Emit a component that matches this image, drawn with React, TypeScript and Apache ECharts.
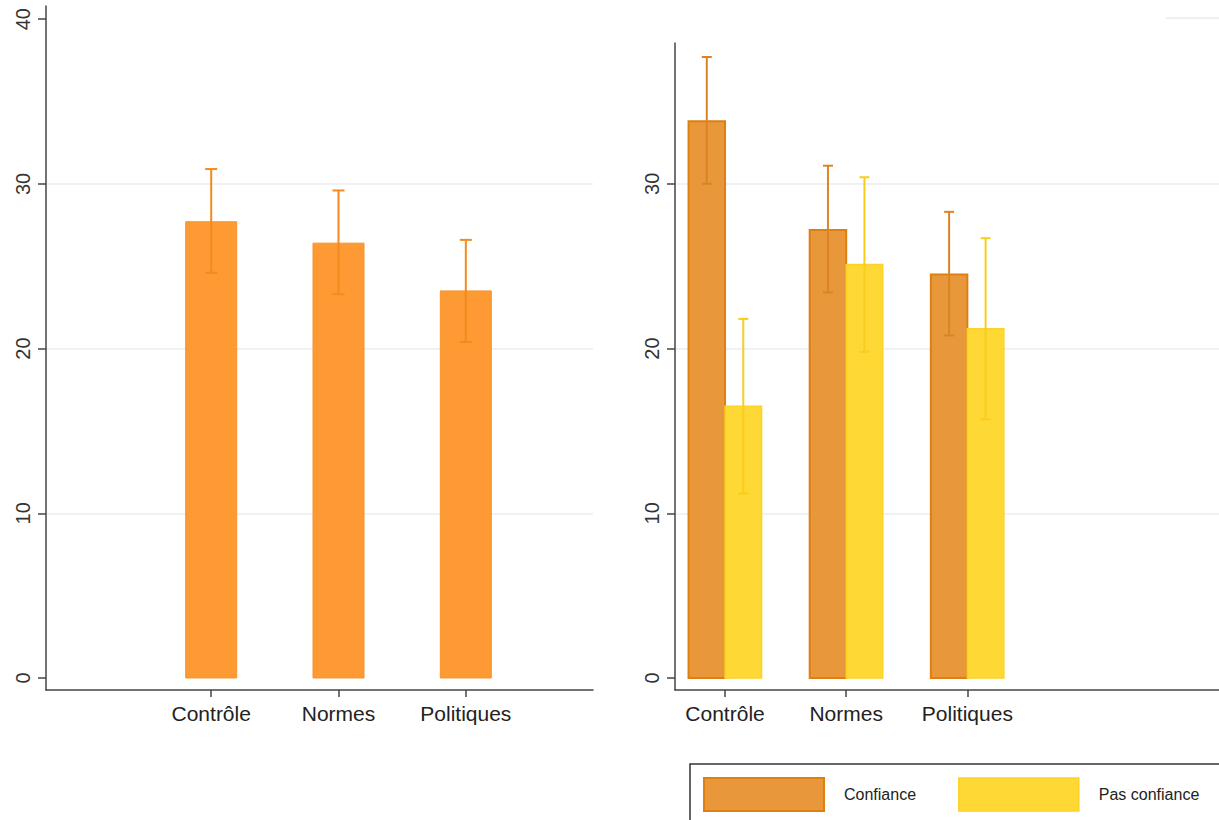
import { useEffect, useRef } from 'react';
import * as echarts from 'echarts';

// ---------- data ----------
const categories = ['Contrôle', 'Normes', 'Politiques'];

const overallMean = [27.7, 26.4, 23.5];
const overallLow = [24.6, 23.3, 20.4];
const overallHigh = [30.9, 29.6, 26.6];

const confianceMean = [33.8, 27.2, 24.5];
const confianceLow = [30.0, 23.4, 20.8];
const confianceHigh = [37.7, 31.1, 28.3];

const pasConfianceMean = [16.5, 25.1, 21.2];
const pasConfianceLow = [11.2, 19.8, 15.7];
const pasConfianceHigh = [21.8, 30.4, 26.7];

const leftTicks = [0, 10, 20, 30, 40];
const rightTicks = [0, 10, 20, 30];
const gridValues = [10, 20, 30];
const catPositions = categories.map((_, i) => i + 1);

const FONT = '"Liberation Sans", Arial, sans-serif';

function barSeries(name: string, xAxisIndex: number, means: number[], bw: number, offset: number, fill: string, stroke: string, lw: number, extra: any = {}) {
  return {
    type: 'custom',
    name,
    xAxisIndex,
    yAxisIndex: xAxisIndex,
    z: 2,
    itemStyle: { color: fill, borderColor: stroke, borderWidth: lw },
    encode: { x: 0, y: 1 },
    data: means.map((v, i) => [catPositions[i], v]),
    renderItem: (params: any, api: any) => {
      const x = api.value(0);
      const v = api.value(1);
      const top = api.coord([x, v]);
      const base = api.coord([x, 0]);
      return {
        type: 'rect',
        shape: { x: top[0] + offset - bw / 2, y: top[1], width: bw, height: base[1] - top[1] },
        style: { fill, stroke, lineWidth: lw },
      };
    },
    ...extra,
  };
}

function errSeries(name: string, xAxisIndex: number, lows: number[], highs: number[], offset: number, color: string, cap: number) {
  return {
    type: 'custom',
    name,
    xAxisIndex,
    yAxisIndex: xAxisIndex,
    encode: { x: 0, y: [1, 2] },
    data: lows.map((lo, i) => [catPositions[i], lo, highs[i]]),
    z: 5,
    renderItem: (params: any, api: any) => {
      const x = api.value(0);
      const lo = api.coord([x, api.value(1)]);
      const hi = api.coord([x, api.value(2)]);
      const cx = lo[0] + offset;
      const st = { stroke: color, lineWidth: 2 };
      return {
        type: 'group',
        children: [
          { type: 'line', shape: { x1: cx, y1: lo[1], x2: cx, y2: hi[1] }, style: st },
          { type: 'line', shape: { x1: cx - cap, y1: hi[1], x2: cx + cap, y2: hi[1] }, style: st },
          { type: 'line', shape: { x1: cx - cap, y1: lo[1], x2: cx + cap, y2: lo[1] }, style: st },
        ],
      };
    },
  };
}

const gridMarkLine = {
  silent: true,
  z: 0,
  symbol: ['none', 'none'],
  label: { show: false },
  lineStyle: { color: '#E9EEF0', width: 1.5, type: 'solid' },
  data: gridValues.map((v) => ({ yAxis: v })),
};

function gridSeries(name: string, index: number) {
  return {
    type: 'line',
    name,
    xAxisIndex: index,
    yAxisIndex: index,
    z: 0,
    data: [],
    showSymbol: false,
    markLine: gridMarkLine,
  };
}

export default function App() {
  const ref = useRef<HTMLDivElement>(null);
  useEffect(() => {
    if (!ref.current) return;
    const chart = echarts.init(ref.current, undefined, { renderer: 'svg' });
    const axisLineStyle = { color: '#444', width: 1.5 };
    const yAxisBase = (ticks: number[], max: number, gridIndex: number) => ({
      type: 'value',
      gridIndex,
      min: -0.73,
      max,
      axisLine: { show: true, onZero: false, lineStyle: axisLineStyle },
      axisTick: { show: true, customValues: ticks, length: 8, lineStyle: axisLineStyle },
      axisLabel: {
        show: true,
        customValues: ticks,
        rotate: 90,
        margin: 13,
        fontSize: 20,
        color: '#333',
        fontFamily: FONT,
      },
      splitLine: { show: false },
    });
    const xAxisBase = (min: number, max: number, gridIndex: number) => ({
      type: 'value',
      gridIndex,
      min,
      max,
      axisLine: { show: true, onZero: false, lineStyle: axisLineStyle },
      axisTick: { show: true, customValues: catPositions, length: 7, lineStyle: axisLineStyle },
      axisLabel: {
        show: true,
        customValues: catPositions,
        margin: 13,
        fontSize: 21,
        color: '#222',
        fontFamily: FONT,
        formatter: (v: number) => categories[Math.round(v) - 1] ?? '',
      },
      splitLine: { show: false },
    });

    chart.setOption({
      animation: false,
      backgroundColor: '#ffffff',
      grid: [
        { left: 46, top: 6, width: 547, height: 684 },
        { left: 675, top: 43, width: 544, height: 647 },
      ],
      xAxis: [xAxisBase(-0.2977, 3.999, 0), xAxisBase(0.587, 5.077, 1)],
      yAxis: [yAxisBase(leftTicks, 40.8, 0), yAxisBase(rightTicks, 38.55, 1)],
      legend: {
        left: 690,
        top: 764,
        width: 700,
        orient: 'horizontal',
        padding: [13, 40, 20, 13],
        itemWidth: 120,
        itemHeight: 33,
        itemGap: 42,
        borderColor: '#333',
        borderWidth: 1.5,
        icon: 'rect',
        selectedMode: false,
        textStyle: { fontSize: 16, color: '#222', fontFamily: FONT, padding: [0, 0, 0, 15] },
        data: [
          { name: 'Confiance', itemStyle: { color: '#E8973A', borderColor: '#DF7F12', borderWidth: 2 } },
          { name: 'Pas confiance', itemStyle: { color: '#FED835', borderColor: '#FDD226', borderWidth: 1.5 } },
        ],
      },
      graphic: [
        { type: 'line', shape: { x1: 1166, y1: 18, x2: 1219, y2: 18 }, style: { stroke: '#EEF1F3', lineWidth: 2 } },
      ],
      series: [
        gridSeries('grid-left', 0),
        gridSeries('grid-right', 1),
        barSeries('Ensemble', 0, overallMean, 51, 0, '#FD9A33', '#F8922A', 1),
        errSeries('Ensemble IC', 0, overallLow, overallHigh, 0, '#F28A1E', 6),
        barSeries('Confiance', 1, confianceMean, 36.5, -18.25, '#E8973A', '#DF7F12', 2),
        barSeries('Pas confiance', 1, pasConfianceMean, 36.5, 18.25, '#FED835', '#FDD226', 1.5),
        errSeries('Confiance IC', 1, confianceLow, confianceHigh, -18.25, '#DC8424', 5),
        errSeries('Pas confiance IC', 1, pasConfianceLow, pasConfianceHigh, 18.25, '#F9CD1B', 5),
      ],
    });
    return () => chart.dispose();
  }, []);
  return (
    <div
      ref={ref}
      style={{ position: 'absolute', left: 0, top: 0, width: 1219, height: 820, background: '#fff' }}
    />
  );
}
